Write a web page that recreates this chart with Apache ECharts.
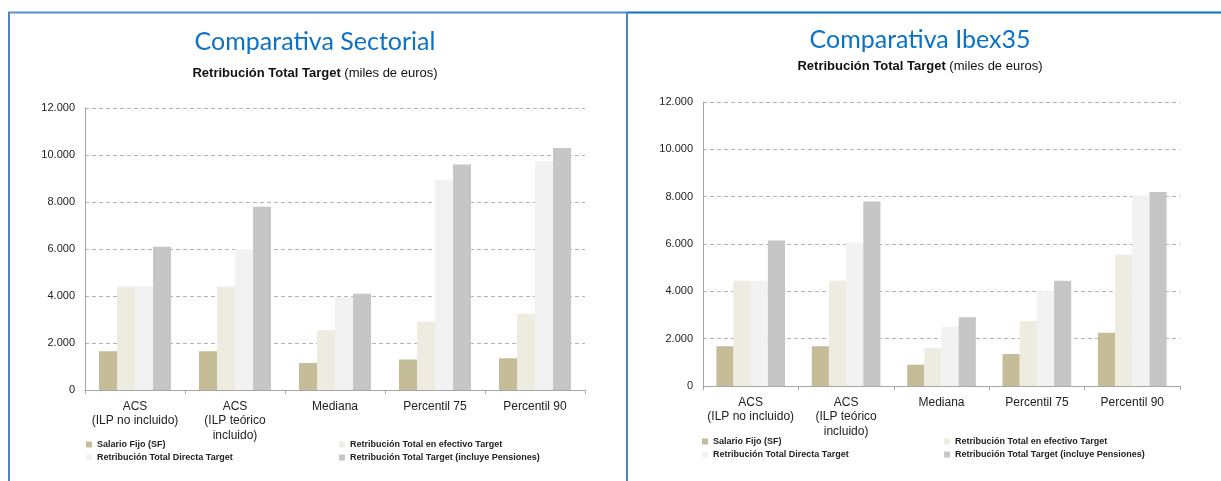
<!DOCTYPE html>
<html>
<head>
<meta charset="utf-8">
<script src="https://cdn.jsdelivr.net/npm/echarts@6/dist/echarts.min.js"></script>
<style>
html,body{margin:0;padding:0;background:#fff;}
#c{width:1221px;height:481px;}
</style>
</head>
<body>
<div id="c"></div>
<script>
const categories = ['ACS\n(ILP no incluido)', 'ACS\n(ILP teórico\nincluido)', 'Mediana', 'Percentil 75', 'Percentil 90'];
const seriesNames = ['Salario Fijo (SF)', 'Retribución Total en efectivo Target', 'Retribución Total Directa Target', 'Retribución Total Target (incluye Pensiones)'];
const colors = ['#c4bd97', '#eeece1', '#f2f2f2', '#c6c6c6'];

// Comparativa Sectorial
const sectSalario = [1650, 1650, 1150, 1300, 1350];
const sectEfectivo = [4400, 4400, 2550, 2900, 3250];
const sectDirecta = [4400, 6000, 3950, 8950, 9750];
const sectTotal = [6100, 7800, 4100, 9600, 10300];

// Comparativa Ibex35
const ibexSalario = [1680, 1680, 900, 1350, 2250];
const ibexEfectivo = [4450, 4450, 1600, 2750, 5550];
const ibexDirecta = [4450, 6050, 2500, 4000, 8050];
const ibexTotal = [6150, 7800, 2900, 4450, 8200];

const yMin = 0, yMax = 12000, yStep = 2000;

const fmt = v => v === 0 ? '0' : String(v).replace(/\B(?=(\d{3})+(?!\d))/g, '.');

function mkY(idx){
  return {
    gridIndex: idx, type: 'value', min: yMin, max: yMax, interval: yStep,
    axisLine: {show: true, lineStyle: {color: '#a6a6a6', width: 1}},
    axisTick: {show: false},
    axisLabel: {formatter: fmt, color: '#222', fontFamily: 'Liberation Sans', fontSize: 11, margin: 10},
    splitLine: {show: true, lineStyle: {color: '#b4b4b4', type: [4, 3], width: 1}}
  };
}
function mkX(idx){
  return {
    gridIndex: idx, type: 'category', data: categories,
    axisLine: {show: true, lineStyle: {color: '#a6a6a6', width: 1}},
    axisTick: {show: true, length: 4, lineStyle: {color: '#a6a6a6'}},
    axisLabel: {color: '#222', fontFamily: 'Liberation Sans', fontSize: 12, lineHeight: 14.5, margin: 9, interval: 0}
  };
}
function mkSeries(idx, arrs){
  return arrs.map((d, i) => ({
    name: seriesNames[i], type: 'bar', xAxisIndex: idx, yAxisIndex: idx,
    data: d, barGap: '0%', barCategoryGap: '28%',
    itemStyle: {color: colors[i]}, emphasis: {disabled: true}
  }));
}
const legendText = {color: '#222', fontFamily: 'Liberation Sans', fontSize: 9, fontWeight: 'bold'};
function mkLegend(left, top, names){
  return {left: left, top: top, orient: 'vertical', itemWidth: 6, itemHeight: 6, itemGap: 4,
    icon: 'rect', data: names, textStyle: legendText, padding: 0, selectedMode: false};
}
function mkTitles(cx, top1, top2, text){
  return [
    {text: text, left: cx, top: top1, textAlign: 'center', padding: 0,
     textStyle: {color: '#0b72c6', fontFamily: 'Lato', fontSize: 25, fontWeight: 'normal'}},
    {text: '{b|Retribución Total Target }{n|(miles de euros)}', left: cx, top: top2, textAlign: 'center', padding: 0,
     textStyle: {fontWeight: 'normal', rich: {
       b: {fontFamily: 'Liberation Sans', fontSize: 13, fontWeight: 'bold', color: '#111'},
       n: {fontFamily: 'Liberation Sans', fontSize: 13, fontWeight: 'normal', color: '#111'}
     }}}
  ];
}

const chart = echarts.init(document.getElementById('c'), null, {renderer: 'canvas'});
chart.setOption({
  backgroundColor: '#fff',
  animation: false,
  title: [].concat(mkTitles(315, 29, 67, 'Comparativa Sectorial'), mkTitles(920, 27, 60, 'Comparativa Ibex35')),
  grid: [
    {left: 85, right: 636, top: 108, bottom: 91},
    {left: 703, right: 41, top: 102, bottom: 95}
  ],
  xAxis: [mkX(0), mkX(1)],
  yAxis: [mkY(0), mkY(1)],
  legend: [
    mkLegend(86, 440, [seriesNames[0], seriesNames[2]]),
    mkLegend(339, 440, [seriesNames[1], seriesNames[3]]),
    mkLegend(702, 437, [seriesNames[0], seriesNames[2]]),
    mkLegend(944, 437, [seriesNames[1], seriesNames[3]])
  ],
  series: [].concat(
    mkSeries(0, [sectSalario, sectEfectivo, sectDirecta, sectTotal]),
    mkSeries(1, [ibexSalario, ibexEfectivo, ibexDirecta, ibexTotal])
  ),
  graphic: [
    {type: 'line', shape: {x1: 8, y1: 12.5, x2: 627, y2: 12.5}, style: {stroke: '#5b8ed2', lineWidth: 2}},
    {type: 'line', shape: {x1: 627, y1: 12.5, x2: 1221, y2: 12.5}, style: {stroke: '#0a72c4', lineWidth: 2}},
    {type: 'line', shape: {x1: 9, y1: 12, x2: 9, y2: 481}, style: {stroke: '#4f82c6', lineWidth: 2}},
    {type: 'line', shape: {x1: 627, y1: 12, x2: 627, y2: 481}, style: {stroke: '#4f82c6', lineWidth: 2}}
  ]
});
</script>
</body>
</html>
